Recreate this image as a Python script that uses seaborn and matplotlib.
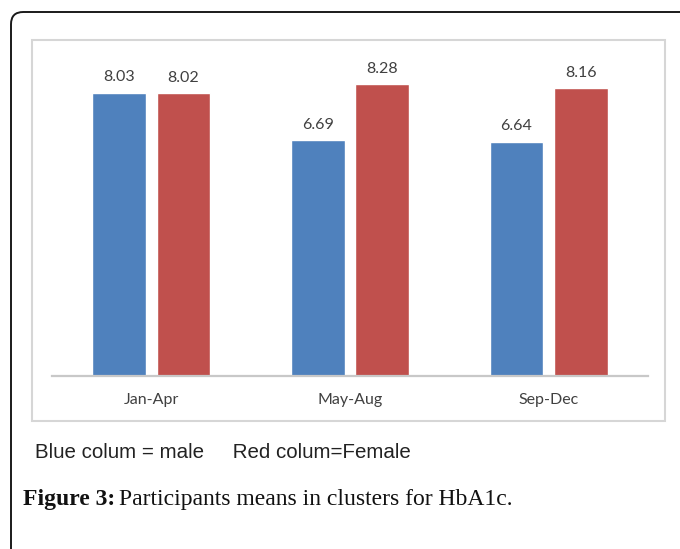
import matplotlib
matplotlib.use("Agg")
import matplotlib.pyplot as plt
import seaborn as sns
import pandas as pd
from matplotlib.patches import Rectangle, FancyBboxPatch

periods = ["Jan-Apr", "May-Aug", "Sep-Dec"]
male = [8.03, 6.69, 6.64]
female = [8.02, 8.28, 8.16]
groups = ["Male", "Female"]
colors = ["#4F81BD", "#C0504D"]

df = pd.DataFrame({
    "period": periods * 2,
    "value": male + female,
    "sex": [groups[0]] * 3 + [groups[1]] * 3,
})

sns.set_style("white")
W, H = 680, 549
fig = plt.figure(figsize=(W / 100, H / 100), dpi=100)

def fx(px):
    return px / W

def fy(py):
    return 1 - py / H

# outer rounded frame (clipped by figure edges)
frame = FancyBboxPatch((fx(11), fy(600)), fx(720 - 11), fy(12) - fy(600),
                       boxstyle="round,pad=0,rounding_size=0.018",
                       transform=fig.transFigure, fill=False,
                       edgecolor="#1a1a1a", linewidth=1.4,
                       mutation_aspect=W / H)
fig.patches.append(frame)

# inner chart box
box = Rectangle((fx(32), fy(421)), fx(665 - 32), fy(40) - fy(421),
                transform=fig.transFigure, fill=False,
                edgecolor="#D6D6D6", linewidth=1.5)
fig.patches.append(box)

ymax = 9.0
base_py = 376
px_per_unit = 35.27
top_py = base_py - ymax * px_per_unit
ax = fig.add_axes([fx(52), fy(base_py), fx(648 - 52), fy(top_py) - fy(base_py)])

sns.barplot(data=df, x="period", y="value", hue="sex", order=periods,
            hue_order=groups, palette=colors, width=0.65, gap=0.17,
            saturation=1, ax=ax, legend=False)

ax.set_xlim(-0.5, 2.5)
ax.set_ylim(0, ymax)
ax.set_xlabel("")
ax.set_ylabel("")
ax.set_yticks([])
for s in ["top", "left", "right"]:
    ax.spines[s].set_visible(False)
ax.spines["bottom"].set_color("#C8C8C8")
ax.spines["bottom"].set_linewidth(1.6)
ax.patch.set_alpha(0)
ax.tick_params(axis="x", length=0, pad=12, labelsize=11.5, labelcolor="#404040")
for lab in ax.get_xticklabels():
    lab.set_fontfamily("Lato")

for cont in ax.containers:
    ax.bar_label(cont, fmt="%.2f", padding=6, fontsize=11.5, color="#404040",
                 fontfamily="Lato")

fig.text(fx(35), fy(452), "Blue colum = male     Red colum=Female",
         fontsize=14.8, family="Liberation Sans", color="#222222",
         ha="left", va="center")

t1 = fig.text(fx(23), fy(499), "Figure 3:", fontsize=17,
              family="Liberation Serif", fontweight="bold", color="#111111",
              ha="left", va="center")
fig.canvas.draw()
bb = t1.get_window_extent()
fig.text((bb.x1 + 4) / W, fy(499), "Participants means in clusters for HbA1c.",
         fontsize=17, family="Liberation Serif", color="#111111",
         ha="left", va="center")

fig.savefig("out.png", dpi=100)
